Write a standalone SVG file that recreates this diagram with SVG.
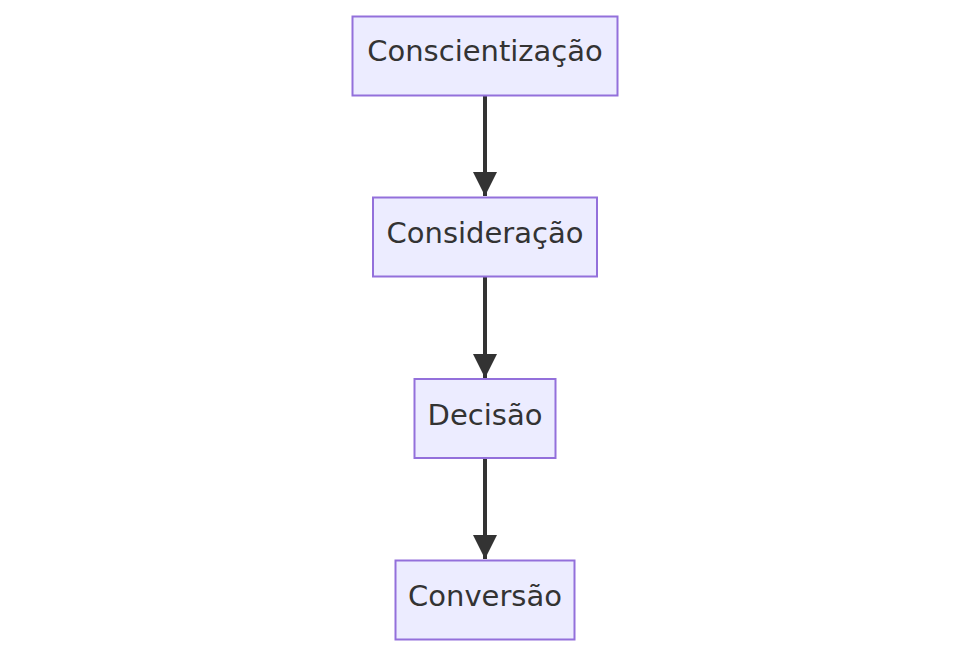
<svg xmlns="http://www.w3.org/2000/svg" width="970" height="656" viewBox="0 0 970 656">
<style>
.node rect{fill:#ECECFF;stroke:#9370DB;stroke-width:2}
.node text{font-family:"DejaVu Sans",Verdana,sans-serif;font-size:29px;fill:#333;text-anchor:middle}
.edge{stroke:#333;stroke-width:4;fill:none}
</style>
<defs>
<marker id="arrow" viewBox="0 0 12 12" refX="12" refY="6" markerUnits="userSpaceOnUse" markerWidth="24" markerHeight="24" orient="auto">
<path d="M0,0 L12,6 L0,12 z" fill="#333"/>
</marker>
</defs>
<rect width="970" height="656" fill="#fff"/>
<g id="connectors">
<line class="edge" x1="485" y1="96" x2="485" y2="196" marker-end="url(#arrow)"/>
<line class="edge" x1="485" y1="277" x2="485" y2="378" marker-end="url(#arrow)"/>
<line class="edge" x1="485" y1="459" x2="485" y2="559" marker-end="url(#arrow)"/>
</g>
<g id="n1" class="node"><rect x="352.5" y="16.5" width="265" height="79"/><text x="485" y="61">Conscientização</text></g>
<g id="n2" class="node"><rect x="373" y="197.5" width="224" height="79"/><text x="485" y="243">Consideração</text></g>
<g id="n3" class="node"><rect x="414.5" y="379" width="141" height="79"/><text x="485" y="425">Decisão</text></g>
<g id="n4" class="node"><rect x="395.5" y="560.5" width="179" height="79"/><text x="485" y="606">Conversão</text></g>
</svg>
